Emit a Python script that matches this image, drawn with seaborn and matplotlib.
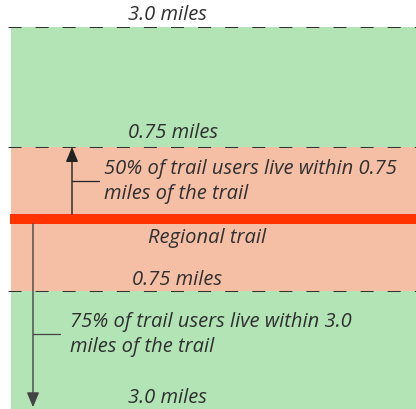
import numpy as np
import pandas as pd
import matplotlib
matplotlib.use("Agg")
import matplotlib.pyplot as plt
import seaborn as sns

# distances from the trail (miles), positive = one side, negative = other side
zone_edges = [-3.0, -0.75, 0.75, 3.0]
zone_colors = ["#b3e4b5", "#f5bfa5", "#b3e4b5"]
boundaries = [3.0, 0.75, -0.75, -3.0]
boundary_labels = ["3.0 miles", "0.75 miles", "0.75 miles", "3.0 miles"]
trail_label = "Regional trail"
callout_texts = ["50% of trail users live within 0.75\nmiles of the trail",
                 "75% of trail users live within 3.0\nmiles of the trail"]

sns.set_theme(style="white")
plt.rcParams["font.family"] = ["Open Sans", "DejaVu Sans"]

# schematic scale: inner 0.75 mi band drawn wider than the outer band
inner, outer = 96.0, 120.0 / 2.25


def fwd(m):
    m = np.asarray(m, dtype=float)
    a = np.abs(m)
    return np.sign(m) * (inner * np.minimum(a, 0.75) + outer * np.maximum(a - 0.75, 0))


def inv(p):
    p = np.asarray(p, dtype=float)
    a = np.abs(p)
    edge = inner * 0.75
    return np.sign(p) * np.where(a <= edge, a / inner, 0.75 + (a - edge) / outer)


fig = plt.figure(figsize=(4.16, 4.10), dpi=100)
ax = fig.add_axes([0, 0, 1, 1])
ax.set_yscale("function", functions=(fwd, inv))
ax.set_xlim(0, 416)
ax.set_ylim(-2.9625, 3.525)
ax.set_axis_off()

# zones
for lo, hi, c in zip(zone_edges[:-1], zone_edges[1:], zone_colors):
    ax.fill_between([11, 416], lo, hi, color=c, lw=0, zorder=1)

# dashed boundaries
bdf = pd.DataFrame({"x": np.repeat([8, 416], len(boundaries)),
                    "y": boundaries * 2,
                    "b": list(range(len(boundaries))) * 2})
sns.lineplot(data=bdf, x="x", y="y", units="b", estimator=None, color="#333333",
             lw=0.75, ax=ax, zorder=3)
for ln in ax.lines:
    ln.set_linestyle((0, (12.5, 13.5)))

txt_style = dict(fontsize=14.5, style="italic", color="#2f2f2f")
for y, lab, x, dy in zip(boundaries, boundary_labels, [128, 128, 132, 128],
                         [9.5, 10.5, 8.5, 10]):
    ax.annotate(lab, (x, y), xytext=(0, dy), textcoords="offset points",
                ha="left", va="center", annotation_clip=False, **txt_style)

# trail
ax.plot([10, 416], [0, 0], color="#ff3300", lw=7.2, solid_capstyle="butt", zorder=4)
ax.annotate(trail_label, (207, 0), xytext=(0, -13), textcoords="offset points",
            ha="center", va="center", **txt_style)

# callouts
arrow_x = [72, 33]
arrow_start = [0.05, -0.05]
arrow_end = [0.75, -2.93]
tick_y = [0.40, -1.55]
text_x = [104, 70]
for ax_x, y0, y1, ty, tx, txt, col in zip(arrow_x, arrow_start, arrow_end, tick_y,
                                          text_x, callout_texts, ["#222222", "#444444"]):
    ax.annotate("", xy=(ax_x, y1), xytext=(ax_x, y0),
                arrowprops=dict(arrowstyle="-|>,head_length=0.6,head_width=0.25",
                                mutation_scale=15, color=col, lw=1, shrinkA=0, shrinkB=0),
                zorder=5)
    ax.plot([ax_x, ax_x + 27], [ty, ty], color=col, lw=0.9, zorder=5)
    ax.text(tx, ty, txt, ha="left", va="center", linespacing=1.3, **txt_style)

fig.savefig("out.png", dpi=100)
